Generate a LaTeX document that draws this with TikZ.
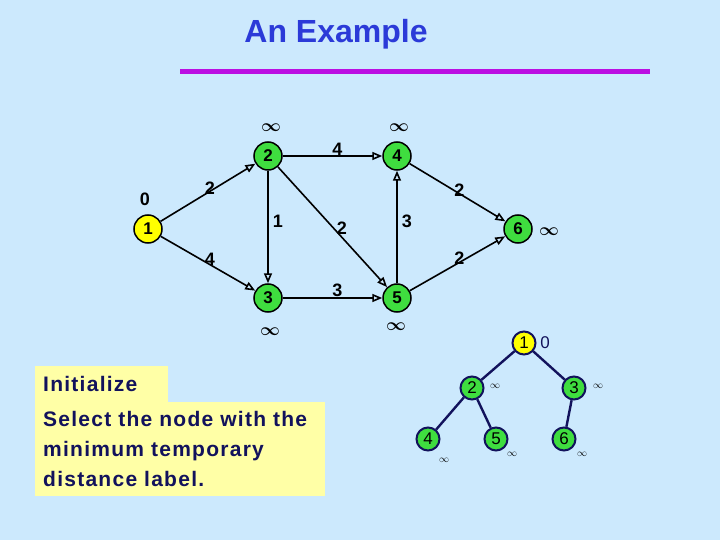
\documentclass[tikz,border=0pt]{standalone}
\usepackage{fontspec}
\usepackage{amsmath}
\setmainfont{Liberation Sans}
\usetikzlibrary{arrows.meta}
\definecolor{slidebg}{HTML}{CCE9FD}
\definecolor{titleblue}{HTML}{2B3AD8}
\definecolor{rulepurple}{HTML}{BB0FE2}
\definecolor{nodegreen}{HTML}{3FDD3F}
\definecolor{nodeyellow}{HTML}{FFFF00}
\definecolor{notecream}{HTML}{FFFFA6}
\definecolor{inknavy}{HTML}{12125C}

\begin{document}
\begin{tikzpicture}[x=1pt,y=-1pt,
  vert/.style={circle,draw=black,line width=1.5pt,fill=nodegreen,minimum size=28pt,inner sep=0pt,
    font=\fontsize{17}{17}\selectfont\bfseries},
  tvert/.style={circle,draw=inknavy,line width=2pt,fill=nodegreen,minimum size=23pt,inner sep=0pt,
    font=\fontsize{17}{17}\selectfont},
  arc/.style={line width=1.6pt,-{Triangle[open,length=10pt,width=8pt]}},
  weight/.style={font=\fontsize{18}{18}\selectfont\bfseries,inner sep=1pt},
  dist/.style={font=\fontsize{18}{18}\selectfont},
  tdist/.style={font=\fontsize{10}{10}\selectfont},
  notebox/.style={fill=notecream,text=inknavy,align=left,anchor=north west,inner xsep=8pt,
    font=\fontsize{21}{30}\selectfont\bfseries\addfontfeatures{LetterSpace=6}}]
  \fill[slidebg] (0,0) rectangle (720,540);

  % title and rule
  \node[text=titleblue,anchor=base,inner sep=0pt,font=\fontsize{32}{32}\selectfont\bfseries]
    (title) at (336,43) {An Example};
  \draw[rulepurple,line width=5pt] (180,72) -- (650,72);

  % network
  \node[vert,fill=nodeyellow] (n1) at (148,229) {1};
  \node[vert] (n2) at (268,156) {2};
  \node[vert] (n3) at (268,298) {3};
  \node[vert] (n4) at (397,156) {4};
  \node[vert] (n5) at (397,298) {5};
  \node[vert] (n6) at (518,229) {6};

  \draw[arc] (n1) -- node[weight,pos=.52,above=-5pt] {2} (n2);
  \draw[arc] (n1) -- node[weight,pos=.52,above=-3pt] {4} (n3);
  \draw[arc] (n2) -- node[weight,pos=.45,right=3pt] {1} (n3);
  \draw[arc] (n2) -- node[weight,pos=.55,above=-1pt] {4} (n4);
  \draw[arc] (n2) -- node[weight,pos=.55,above right=-3pt] {2} (n5);
  \draw[arc] (n3) -- node[weight,pos=.55,above=-1pt] {3} (n5);
  \draw[arc] (n5) -- node[weight,pos=.55,right=3pt] {3} (n4);
  \draw[arc] (n4) -- node[weight,pos=.52,above=-5pt] {2} (n6);
  \draw[arc] (n5) -- node[weight,pos=.52,above=-4pt] {2} (n6);

  \node[dist,font=\fontsize{18}{18}\selectfont\bfseries] (d1) at (145,199) {0};
  \node[dist] (d2) at (271,128) {$\boldsymbol{\infty}$};
  \node[dist] (d4) at (399,128) {$\boldsymbol{\infty}$};
  \node[dist] (d3) at (270,332) {$\boldsymbol{\infty}$};
  \node[dist] (d5) at (396,327) {$\boldsymbol{\infty}$};
  \node[dist] (d6) at (549,232) {$\boldsymbol{\infty}$};

  % heap
  \node[tvert,fill=nodeyellow] (t1) at (524,343) {1};
  \node[tvert] (t2) at (472,388) {2};
  \node[tvert] (t3) at (574,388) {3};
  \node[tvert] (t4) at (428,439) {4};
  \node[tvert] (t5) at (496,439) {5};
  \node[tvert] (t6) at (564,439) {6};
  \foreach \a/\b in {t1/t2,t1/t3,t2/t4,t2/t5,t3/t6}
    \draw[inknavy,line width=2.4pt] (\a) -- (\b);

  \node[font=\fontsize{17}{17}\selectfont,text=inknavy] (h1) at (545,343) {0};
  \node[tdist] (h2) at (495,386) {$\infty$};
  \node[tdist] (h3) at (598,386) {$\infty$};
  \node[tdist] (h4) at (444,460) {$\infty$};
  \node[tdist] (h5) at (512,454) {$\infty$};
  \node[tdist] (h6) at (582,454) {$\infty$};

  % notes
  \node[notebox,text width=117pt,minimum height=36pt] (init) at (35,366) {Initialize};
  \node[notebox,text width=274pt,inner ysep=9pt] (select) at (35,402)
    {Select the node with the\\minimum temporary\\distance label.};
\end{tikzpicture}
\end{document}
